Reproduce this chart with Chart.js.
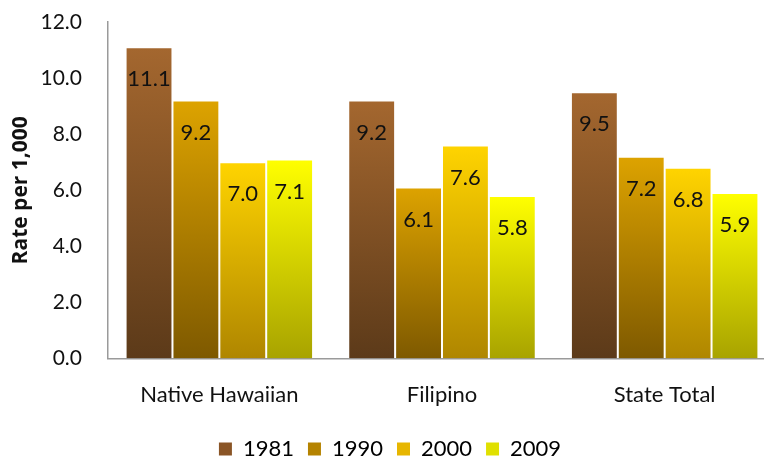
<!DOCTYPE html>
<html><head><meta charset="utf-8">
<script src="https://cdn.jsdelivr.net/npm/chart.js@4/dist/chart.umd.min.js"></script>
<style>html,body{margin:0;padding:0;background:#fff;overflow:hidden;width:764px;height:460px}#wrap{width:776px;height:460px}</style>
</head><body><div id="wrap"><canvas id="c" width="776" height="460"></canvas></div>
<script>
const categories = ["Native Hawaiian", "Filipino", "State Total"];
const seriesNames = ["1981", "1990", "2000", "2009"];
const v1981 = [11.1, 9.2, 9.5];
const v1990 = [9.2, 6.1, 7.2];
const v2000 = [7.0, 7.6, 6.8];
const v2009 = [7.1, 5.8, 5.9];
const yTicks = [0, 2, 4, 6, 8, 10, 12];

const FONT = "Lato, 'Open Sans', sans-serif";
const gradStops = [
  ["#A4672F", "#5C3A19"],
  ["#DDA300", "#7E5900"],
  ["#FFD400", "#AF8600"],
  ["#FFFF00", "#A8A300"]
];
const legendFill = ["#8A5526", "#B58300", "#E7B600", "#E0E000"];

function barGradient(ctx, i) {
  const chart = ctx.chart;
  const area = chart.chartArea;
  if (!area) return gradStops[i][0];
  const ys = chart.scales.y;
  const v = ctx.raw == null ? 0 : ctx.raw;
  const top = ys.getPixelForValue(v), bot = ys.getPixelForValue(0);
  const g = chart.ctx.createLinearGradient(0, top, 0, bot);
  g.addColorStop(0, gradStops[i][0]);
  g.addColorStop(1, gradStops[i][1]);
  return g;
}

const allSeries = [v1981, v1990, v2000, v2009];
const datasets = allSeries.map((d, i) => ({
  label: seriesNames[i],
  data: d,
  backgroundColor: (ctx) => barGradient(ctx, i),
  borderColor: "rgba(255,255,255,0.35)",
  borderWidth: 1,
  barPercentage: 1.0,
  categoryPercentage: 0.842
}));

const labelPlugin = {
  id: "barLabels",
  afterDatasetsDraw(chart) {
    const ctx = chart.ctx;
    ctx.save();
    ctx.font = "22px " + FONT;
    ctx.fillStyle = "#111";
    ctx.textAlign = "center";
    ctx.textBaseline = "middle";
    chart.data.datasets.forEach((ds, di) => {
      const meta = chart.getDatasetMeta(di);
      meta.data.forEach((bar, j) => {
        ctx.fillText(ds.data[j].toFixed(1), bar.x, bar.y + 32);
      });
    });
    ctx.restore();
  }
};

new Chart(document.getElementById("c"), {
  type: "bar",
  data: { labels: categories, datasets },
  plugins: [labelPlugin],
  options: {
    responsive: false,
    animation: false,
    layout: { padding: { left: 4, top: 22, right: 0, bottom: -10 } },
    plugins: {
      tooltip: { enabled: false },
      legend: {
        position: "bottom",
        labels: {
          font: { size: 22, family: FONT },
          color: "#111",
          boxWidth: 13, boxHeight: 13, padding: 14,
          generateLabels: (chart) => chart.data.datasets.map((ds, i) => ({
            text: ds.label, fillStyle: legendFill[i], strokeStyle: legendFill[i], lineWidth: 0, datasetIndex: i
          }))
        }
      }
    },
    scales: {
      x: {
        grid: { display: false, drawTicks: false },
        border: { color: "#9a9a9a", width: 1.5 },
        ticks: { font: { size: 22, family: FONT }, color: "#111", padding: 23 },
        afterFit: (s) => { s.height = s.height - 7; }
      },
      y: {
        min: 0, max: 12,
        afterBuildTicks: (s) => { s.ticks = yTicks.map(v => ({ value: v })); },
        grid: { display: false, drawTicks: false },
        border: { color: "#9a9a9a", width: 1.5 },
        ticks: { font: { size: 21, family: FONT }, color: "#111", padding: 26,
                 callback: (v) => Number(v).toFixed(1) },
        title: { display: true, text: "Rate per 1,000", font: { size: 21, weight: "bold", family: "'Open Sans', sans-serif" }, color: "#111", padding: { top: 4, bottom: 4 } },
        afterFit: (s) => { s.width = 104; s.paddingTop = 0; s.paddingBottom = 0; }
      }
    }
  }
});
</script></body></html>
